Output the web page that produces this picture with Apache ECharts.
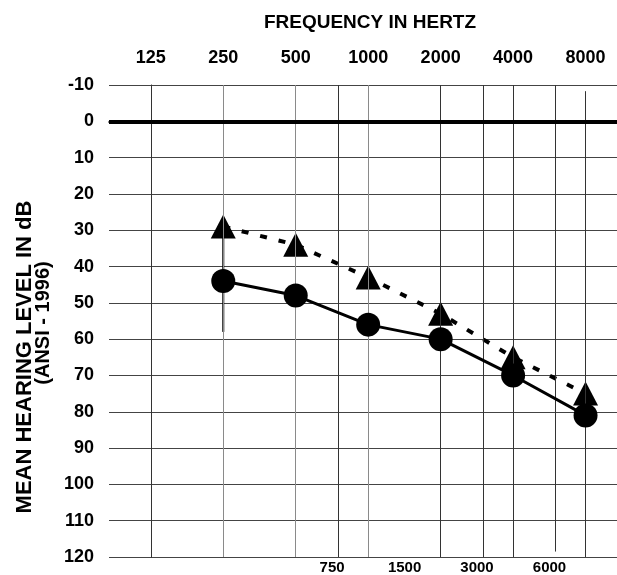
<!DOCTYPE html>
<html>
<head>
<meta charset="utf-8">
<script src="https://cdn.jsdelivr.net/npm/echarts@6/dist/echarts.min.js"></script>
<style>html,body{margin:0;padding:0;background:#fff}#c{width:617px;height:575px}</style>
</head>
<body>
<div id="c"></div>
<script>
// ---- data ----
const topFreqLabels = [125, 250, 500, 1000, 2000, 4000, 8000];
const bottomFreqLabels = [750, 1500, 3000, 6000];
const gridFreqs = [125, 250, 500, 750, 1000, 2000, 3000, 4000, 6000, 8000];
const freqs = [250, 500, 1000, 2000, 4000, 8000];
const circleDb = [44, 48, 56, 60, 70, 81];
const triangleDb = [29, 34, 43, 53, 65, 75];
const errorBarFreq = 250;
const errorBarDb = [30, 58];

// octave position relative to 125 Hz (the axis is a log2 frequency scale)
const oct = f => Math.log2(f / 125);
const F = 'Liberation Sans, Arial, sans-serif';
const lightGrid = [500, 1000, 250];

const chart = echarts.init(document.getElementById('c'), null, {renderer: 'canvas'});

const gridLines = gridFreqs.map(f => {
  const c = lightGrid.indexOf(f) >= 0 ? '#8a8a8a' : '#333';
  const y0 = f === 8000 ? -8.3 : -10;
  const y1 = f === 6000 ? 118.5 : 120;
  return [{coord: [oct(f), y0], lineStyle: {color: c, width: 1, type: 'solid'}}, {coord: [oct(f), y1]}];
});

const option = {
  animation: false,
  backgroundColor: '#fff',
  title: {
    text: 'FREQUENCY IN HERTZ', left: 370, top: 13, textAlign: 'center', padding: 0,
    textStyle: {fontFamily: F, fontWeight: 'bold', fontSize: 19, color: '#000'}
  },
  graphic: [
    {type: 'text', x: 25, y: 357, rotation: Math.PI / 2,
     style: {text: 'MEAN HEARING LEVEL IN dB', font: 'bold 22px ' + F, fill: '#000', align: 'center', verticalAlign: 'middle'}},
    {type: 'text', x: 43, y: 323, rotation: Math.PI / 2,
     style: {text: '(ANSI - 1996)', font: 'bold 20px ' + F, fill: '#000', align: 'center', verticalAlign: 'middle'}}
  ],
  grid: {left: 109, right: 0, top: 85, bottom: 18},
  xAxis: [
    {
      type: 'value', position: 'bottom', min: -0.577, max: 6.434,
      axisLine: {show: true, lineStyle: {color: '#666', width: 2}},
      axisTick: {show: true, customValues: topFreqLabels.map(oct), length: 3, lineStyle: {color: '#333'}},
      axisLabel: {show: true, customValues: bottomFreqLabels.map(oct), margin: 3,
        formatter: v => String(Math.round(125 * Math.pow(2, v))),
        padding: [0, 12, 0, 0],
        fontFamily: F, fontWeight: 'bold', fontSize: 15, color: '#000'},
      splitLine: {show: false}
    },
    {
      type: 'value', position: 'top', min: -0.577, max: 6.434,
      axisLine: {show: false}, axisTick: {show: false},
      axisLabel: {show: true, customValues: topFreqLabels.map(oct), margin: 18,
        formatter: v => String(Math.round(125 * Math.pow(2, v))),
        fontFamily: F, fontWeight: 'bold', fontSize: 18, color: '#000'},
      splitLine: {show: false}
    }
  ],
  yAxis: {
    type: 'value', inverse: true, min: -10, max: 120, interval: 10,
    axisLine: {show: true, lineStyle: {color: '#222', width: 1}},
    axisTick: {show: false},
    axisLabel: {margin: 15, fontFamily: F, fontWeight: 'bold', fontSize: 18, color: '#000'},
    splitLine: {show: true, lineStyle: {color: '#444', width: 1}}
  },
  series: [
    {
      type: 'line', z: 1, data: [], silent: true,
      markLine: {
        silent: true, symbol: 'none', label: {show: false}, animation: false,
        data: gridLines.concat([{yAxis: 0, lineStyle: {color: '#000', width: 4, type: 'solid'}}])
      }
    },
    {
      type: 'line', z: 3, data: errorBarDb.map(d => [oct(errorBarFreq), d]),
      showSymbol: false, symbol: 'none', lineStyle: {color: '#000', width: 2}
    },
    {
      type: 'line', z: 4, data: freqs.map((f, i) => [oct(f), triangleDb[i]]),
      symbol: 'triangle', symbolSize: [25, 24],
      itemStyle: {color: '#000'},
      lineStyle: {color: '#000', width: 4, type: [7, 12]}
    },
    {
      type: 'line', z: 5, data: freqs.map((f, i) => [oct(f), circleDb[i]]),
      symbol: 'circle', symbolSize: 24,
      itemStyle: {color: '#000'},
      lineStyle: {color: '#000', width: 3}
    }
  ]
};
chart.setOption(option);
</script>
</body>
</html>
